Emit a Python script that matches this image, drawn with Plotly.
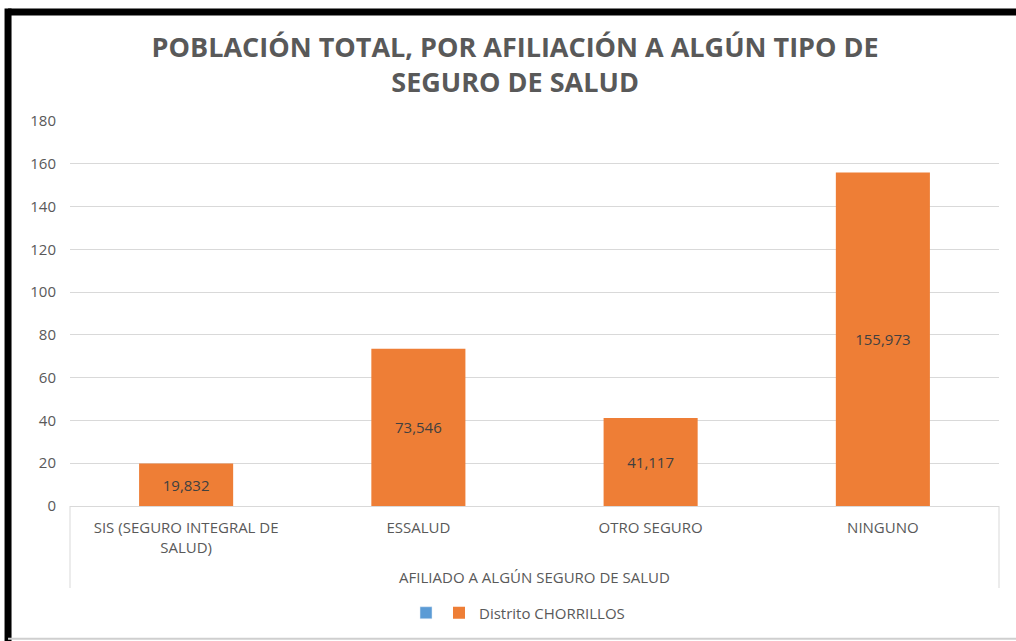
import plotly.graph_objects as go

categories = ["SIS (SEGURO INTEGRAL DE<br>SALUD)", "ESSALUD", "OTRO SEGURO", "NINGUNO"]
values = [19.832, 73.546, 41.117, 155.973]
series_name = "Distrito CHORRILLOS"
title_text = "POBLACIÓN TOTAL, POR AFILIACIÓN A ALGÚN TIPO DE<br>SEGURO DE SALUD"
x_title = "AFILIADO A ALGÚN SEGURO DE SALUD"
y_ticks = [0, 20, 40, 60, 80, 100, 120, 140, 160, 180]

FONT = "Open Sans, sans-serif"

fig = go.Figure()
fig.add_trace(go.Bar(x=categories, y=[None] * len(categories), name="",
                     marker_color="#5B9BD5", showlegend=True, hoverinfo="skip",
                     legend="legend"))
fig.add_trace(go.Bar(
    x=categories, y=values, name=series_name,
    marker=dict(color="#EE7E36", line=dict(width=0)),
    texttemplate="%{y:.3f}", textposition="inside", insidetextanchor="middle",
    textfont=dict(size=15, color="#404040", family=FONT),
    showlegend=True, legend="legend2",
))

legend_common = dict(orientation="h", y=-0.278, yanchor="middle",
                     font=dict(size=15, color="#595959"), bgcolor="rgba(0,0,0,0)")

fig.update_layout(
    width=1016, height=641,
    paper_bgcolor="white", plot_bgcolor="white",
    separators=",.",
    margin=dict(l=70, r=17, t=121, b=135),
    barmode="overlay", bargap=0.595,
    title=dict(text="<b>" + title_text + "</b>", x=0.507, xanchor="center",
               y=0.9105, yanchor="middle",
               font=dict(size=27, color="#595959", family=FONT)),
    font=dict(family=FONT, color="#595959", size=15),
    legend=dict(x=0.3617, xanchor="left", **legend_common),
    legend2=dict(x=0.3972, xanchor="left", **legend_common),
    showlegend=True,
)
fig.update_yaxes(range=[0, 180], tickvals=y_ticks, showgrid=True, gridcolor="#D9D9D9",
                 gridwidth=1, zeroline=False, showline=False,
                 tickfont=dict(size=15, color="#595959"), ticks="outside", ticklen=10,
                 tickcolor="white")
fig.update_xaxes(showline=True, linecolor="#D9D9D9", linewidth=1,
                 ticks="outside", ticklen=8, tickcolor="white",
                 tickfont=dict(size=15, color="#595959"),
                 title=dict(text=x_title, standoff=16, font=dict(size=15, color="#595959")))

shapes = [
    dict(type="line", xref="paper", yref="paper", x0=0, x1=0, y0=0, y1=-0.213,
         line=dict(color="#D9D9D9", width=1)),
    dict(type="line", xref="paper", yref="paper", x0=1, x1=1, y0=0, y1=-0.213,
         line=dict(color="#D9D9D9", width=1)),
    dict(type="line", xref="paper", yref="paper", x0=-0.0667, x1=1.02, y0=1.283, y1=1.283,
         line=dict(color="black", width=7)),
    dict(type="line", xref="paper", yref="paper", x0=-0.0667, x1=-0.0667, y0=1.292, y1=-0.36,
         line=dict(color="black", width=7)),
    dict(type="line", xref="paper", yref="paper", x0=-0.0667, x1=1.02, y0=-0.345, y1=-0.345,
         line=dict(color="#CFCFCF", width=2)),
]
fig.update_layout(shapes=shapes)

fig.write_html("out.html", config={"displayModeBar": False},
               post_script="document.body.style.margin='0';document.body.style.overflow='hidden';")
